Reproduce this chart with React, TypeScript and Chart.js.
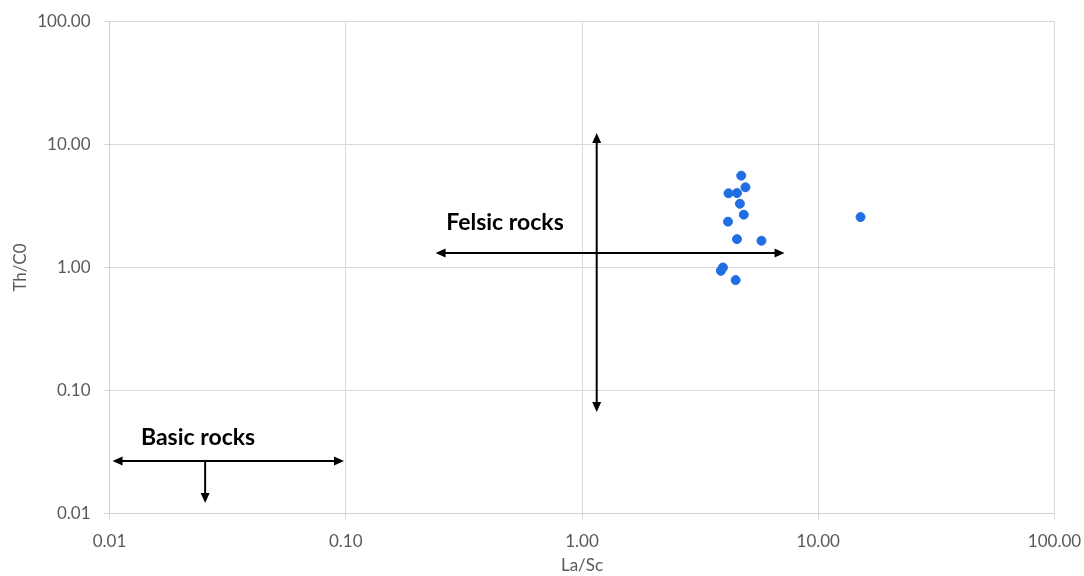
import React, { useEffect, useRef } from "react";
import { Chart, registerables } from "chart.js";

Chart.register(...registerables);

const laSc = [4.72, 4.92, 4.17, 4.53, 4.66, 4.84, 4.15, 4.53, 5.75, 3.95, 3.87, 4.47, 15.1];
const thCo = [5.58, 4.49, 4.01, 4.03, 3.3, 2.69, 2.36, 1.7, 1.65, 1.0, 0.94, 0.79, 2.57];
const tickValues = [0.01, 0.1, 1, 10, 100];

// annotation arrows in data units: [x1, y1, x2, y2, arrowAtStart, arrowAtEnd]
const arrows: [number, number, number, number, boolean, boolean][] = [
  [0.24, 1.31, 7.2, 1.31, true, true],
  [1.154, 12.4, 1.154, 0.067, true, true],
  [0.0103, 0.0267, 0.0983, 0.0267, true, true],
  [0.0254, 0.0267, 0.0254, 0.0122, false, true],
];
const labels: [string, number, number][] = [
  ["Felsic rocks", 0.472, 2.34],
  ["Basic rocks", 0.0237, 0.0411],
];

const FONT = "Lato, 'Open Sans', sans-serif";

export default function App() {
  const ref = useRef<HTMLCanvasElement>(null);
  useEffect(() => {
    document.body.style.margin = "0";
    const annot = {
      id: "annot",
      afterDatasetsDraw(chart: any) {
        const { ctx, scales } = chart;
        const xs = scales.x;
        const ys = scales.y;
        ctx.save();
        ctx.strokeStyle = "#000";
        ctx.fillStyle = "#000";
        ctx.lineWidth = 2;
        const head = (tx: number, ty: number, fx: number, fy: number) => {
          const a = Math.atan2(ty - fy, tx - fx);
          const L = 10, W = 4.5;
          ctx.beginPath();
          ctx.moveTo(tx, ty);
          ctx.lineTo(tx - L * Math.cos(a) + W * Math.sin(a), ty - L * Math.sin(a) - W * Math.cos(a));
          ctx.lineTo(tx - L * Math.cos(a) - W * Math.sin(a), ty - L * Math.sin(a) + W * Math.cos(a));
          ctx.closePath();
          ctx.fill();
        };
        for (const [x1, y1, x2, y2, s, e] of arrows) {
          const px1 = xs.getPixelForValue(x1), py1 = ys.getPixelForValue(y1);
          const px2 = xs.getPixelForValue(x2), py2 = ys.getPixelForValue(y2);
          const a = Math.atan2(py2 - py1, px2 - px1);
          const sx = s ? px1 + 8 * Math.cos(a) : px1, sy = s ? py1 + 8 * Math.sin(a) : py1;
          const ex = e ? px2 - 8 * Math.cos(a) : px2, ey = e ? py2 - 8 * Math.sin(a) : py2;
          ctx.beginPath();
          ctx.moveTo(sx, sy);
          ctx.lineTo(ex, ey);
          ctx.stroke();
          if (s) head(px1, py1, px2, py2);
          if (e) head(px2, py2, px1, py1);
        }
        ctx.font = "bold 23px " + FONT;
        ctx.textAlign = "center";
        ctx.textBaseline = "middle";
        for (const [t, x, y] of labels) {
          ctx.fillText(t, xs.getPixelForValue(x), ys.getPixelForValue(y));
        }
        ctx.restore();
      },
    };
    const chart = new Chart(ref.current!, {
      type: "scatter",
      data: {
        datasets: [
          {
            data: laSc.map((x, i) => ({ x, y: thCo[i] })),
            backgroundColor: "#1f6fe3",
            borderColor: "#1f6fe3",
            pointRadius: 4.5,
            pointHoverRadius: 4.5,
          },
        ],
      },
      options: {
        animation: false,
        responsive: false,
        maintainAspectRatio: false,
        layout: { padding: { top: 21.5, right: 29.5, left: 0, bottom: 0 } },
        plugins: { legend: { display: false }, tooltip: { enabled: false } },
        scales: {
          x: {
            type: "logarithmic",
            min: 0.01,
            max: 100,
            afterBuildTicks: (s: any) => {
              s.ticks = tickValues.map((v) => ({ value: v }));
            },
            afterFit: (s: any) => {
              s.height = 62.5;
              s.paddingLeft = 0;
              s.paddingRight = 0;
            },
            ticks: {
              callback: (v: any) => Number(v).toFixed(2),
              color: "#595959",
              font: { family: FONT, size: 17 },
              maxRotation: 0,
              padding: 12,
            },
            grid: { color: "#d9d9d9", lineWidth: 1, tickLength: 6 },
            border: { color: "#d0d0d0" },
            title: {
              display: true,
              text: "La/Sc",
              color: "#595959",
              font: { family: FONT, size: 17 },
              padding: { top: 2, bottom: 0 },
            },
          },
          y: {
            type: "logarithmic",
            min: 0.01,
            max: 100,
            afterBuildTicks: (s: any) => {
              s.ticks = tickValues.map((v) => ({ value: v }));
            },
            afterFit: (s: any) => {
              s.width = 109.5;
              s.paddingTop = 0;
              s.paddingBottom = 0;
            },
            ticks: {
              callback: (v: any) => Number(v).toFixed(2),
              color: "#595959",
              font: { family: FONT, size: 17 },
              padding: 13,
            },
            grid: { color: "#d9d9d9", lineWidth: 1, tickLength: 6 },
            border: { color: "#d0d0d0" },
            title: {
              display: true,
              text: "Th/C0",
              color: "#595959",
              font: { family: FONT, size: 17 },
              padding: { top: 10, bottom: 10 },
            },
          },
        },
      },
      plugins: [annot],
    });
    return () => chart.destroy();
  }, []);
  return <canvas ref={ref} width={1084} height={576} style={{ display: "block" }} />;
}
